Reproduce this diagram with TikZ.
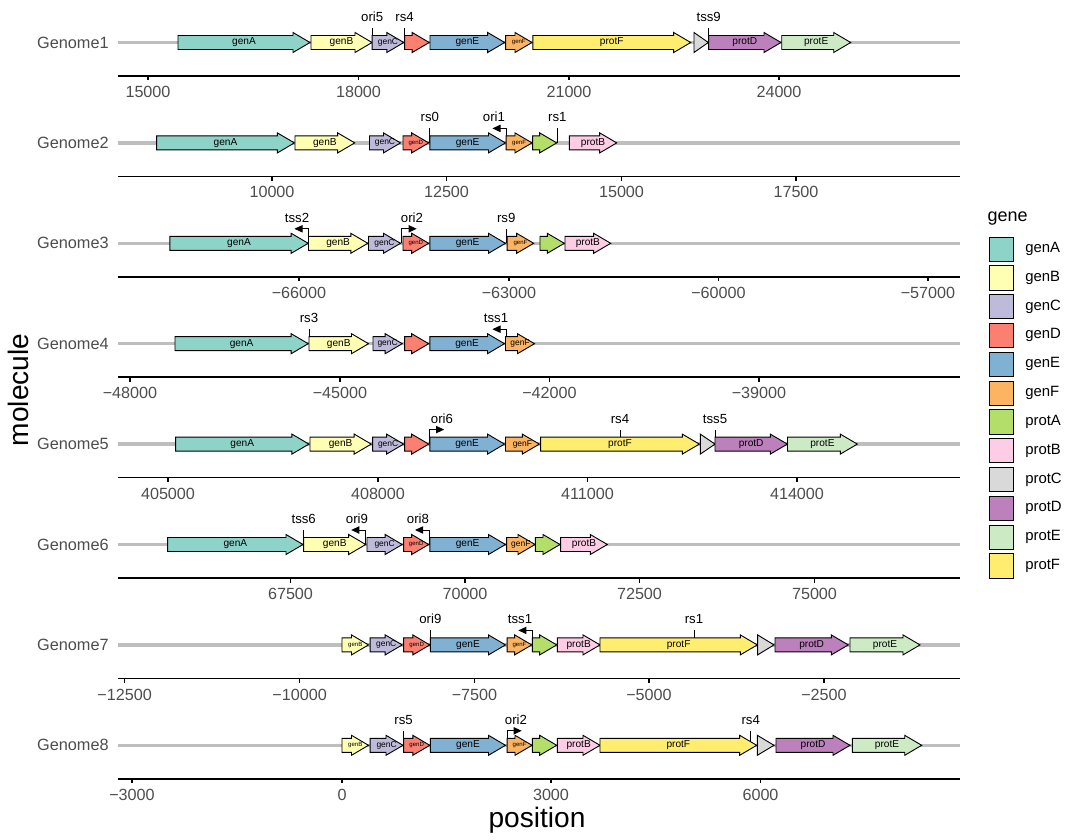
\documentclass[tikz,border=0pt]{standalone}
\usepackage{fontspec}
\setmainfont{Liberation Sans}
\usetikzlibrary{arrows.meta}

\definecolor{cgenA}{HTML}{8DD3C7}
\definecolor{cgenB}{HTML}{FFFFB3}
\definecolor{cgenC}{HTML}{BEBADA}
\definecolor{cgenD}{HTML}{FB8072}
\definecolor{cgenE}{HTML}{80B1D3}
\definecolor{cgenF}{HTML}{FDB462}
\definecolor{cprotA}{HTML}{B3DE69}
\definecolor{cprotB}{HTML}{FCCDE5}
\definecolor{cprotC}{HTML}{D9D9D9}
\definecolor{cprotD}{HTML}{BC80BD}
\definecolor{cprotE}{HTML}{CCEBC5}
\definecolor{cprotF}{HTML}{FFED6F}
\definecolor{cmol}{HTML}{BEBEBE}
\definecolor{grey30}{HTML}{4D4D4D}

% gene arrow: name, row y, start, end, colour, label style, label
\newcommand{\genearrow}[7]{%
  \pgfmathsetmacro{\gL}{#4-#3}%
  \ifdim\gL pt>17pt
    \draw[gene, fill=#5] (#3,{#2-7}) -- ({#4-17},{#2-7}) -- ({#4-17},{#2-10}) -- (#4,#2)
      -- ({#4-17},{#2+10}) -- ({#4-17},{#2+7}) -- (#3,{#2+7}) -- cycle;
  \else
    \draw[gene, fill=#5] (#3,{#2-10}) -- (#4,#2) -- (#3,{#2+10}) -- cycle;
  \fi
  \node[#6] (#1) at ({(#3+#4)/2},#2) {#7};
}
% feature without direction: name, row y, x, label
\newcommand{\sitemark}[4]{%
  \draw[feat] (#3,#2) -- (#3,{#2-14.5});
  \node[flabel] (#1) at (#3,{#2-21}) {#4};
}
% feature with direction: name, row y, x, arrow end, label x, label
\newcommand{\sitearrow}[6]{%
  \draw[feat, -{Triangle[length=5.8pt,width=5.2pt]}] (#3,#2) -- (#3,{#2-14.5}) -- (#4,{#2-14.5});
  \node[flabel] (#1) at (#5,{#2-21}) {#6};
}

\begin{document}
\begin{tikzpicture}[
  x=0.025cm, y=-0.025cm,
  molline/.style={draw=cmol, line width=2.4pt},
  gene/.style={draw=black, line width=0.65pt, line join=miter},
  glabel/.style={font=\fontsize{7.2}{8}\selectfont, inner sep=0pt},
  gsmall/.style={font=\fontsize{6}{6}\selectfont, inner sep=0pt},
  gtiny/.style={font=\fontsize{4.3}{4.5}\selectfont, inner sep=0pt},
  feat/.style={draw=black, line width=0.7pt},
  flabel/.style={font=\fontsize{9.4}{10}\selectfont, anchor=base, inner sep=0pt},
  axisline/.style={draw=black, line width=1pt},
  tlabel/.style={font=\fontsize{11.5}{12}\selectfont, text=grey30, anchor=base, inner sep=0pt},
  mlabel/.style={font=\fontsize{11.6}{12}\selectfont, text=grey30, anchor=east, inner sep=0pt},
  keybox/.style={draw=black, line width=0.5pt, minimum size=17.2pt, inner sep=0pt},
  keylabel/.style={font=\fontsize{10.6}{11}\selectfont, anchor=west, inner sep=0pt},
  title/.style={font=\fontsize{20}{22}\selectfont, anchor=base, inner sep=0pt}
]
\useasboundingbox (0,0) rectangle (1080,840);

% Genome1
\draw[molline] (118,42.5) -- (960,42.5);
\node[mlabel] (m1) at (109,42.5) {Genome1};
\sitemark{f1a}{42.5}{372.2}{ori5}
\sitemark{f1b}{42.5}{404.6}{rs4}
\sitemark{f1c}{42.5}{708.7}{tss9}
\genearrow{g1a}{42.5}{178}{310}{cgenA}{glabel}{genA}
\genearrow{g1b}{42.5}{311}{372}{cgenB}{glabel}{genB}
\genearrow{g1c}{42.5}{372.2}{403.8}{cgenC}{gsmall}{genC}
\genearrow{g1d}{42.5}{404.6}{429.2}{cgenD}{glabel}{}
\genearrow{g1e}{42.5}{430}{504.7}{cgenE}{glabel}{genE}
\genearrow{g1f}{42.5}{505.6}{532}{cgenF}{gtiny}{genF}
\genearrow{g1g}{42.5}{532.8}{690.7}{cprotF}{glabel}{protF}
\genearrow{g1h}{42.5}{694}{708.3}{cprotC}{glabel}{}
\genearrow{g1i}{42.5}{708.7}{781}{cprotD}{glabel}{protD}
\genearrow{g1j}{42.5}{781.7}{850.7}{cprotE}{glabel}{protE}
\draw[axisline] (118,76) -- (960,76);
\foreach \tx/\tl [count=\i] in {148/15000, 358.5/18000, 569/21000, 779/24000} {
  \draw[axisline] (\tx,76) -- (\tx,80.5);
  \node[tlabel] (t1-\i) at (\tx,97.6) {\tl};
}

% Genome2
\draw[molline] (118,142.9) -- (960,142.9);
\node[mlabel] (m2) at (109,142.9) {Genome2};
\sitemark{f2a}{142.9}{429.8}{rs0}
\sitearrow{f2b}{142.9}{506.2}{492.4}{494}{ori1}
\sitemark{f2c}{142.9}{557.3}{rs1}
\genearrow{g2a}{142.9}{156.7}{294.4}{cgenA}{glabel}{genA}
\genearrow{g2b}{142.9}{295}{354.7}{cgenB}{glabel}{genB}
\genearrow{g2c}{142.9}{369.5}{400.5}{cgenC}{gsmall}{genC}
\genearrow{g2d}{142.9}{403}{428.7}{cgenD}{gtiny}{genD}
\genearrow{g2e}{142.9}{429.8}{505.5}{cgenE}{glabel}{genE}
\genearrow{g2f}{142.9}{506.2}{532}{cgenF}{gtiny}{genF}
\genearrow{g2g}{142.9}{532.7}{556.7}{cprotA}{glabel}{}
\genearrow{g2h}{142.9}{569.3}{616.7}{cprotB}{glabel}{protB}
\draw[axisline] (118,176.4) -- (960,176.4);
\foreach \tx/\tl [count=\i] in {272/10000, 446.5/12500, 621.5/15000, 796/17500} {
  \draw[axisline] (\tx,176.4) -- (\tx,180.9);
  \node[tlabel] (t2-\i) at (\tx,198) {\tl};
}

% Genome3
\draw[molline] (118,243.3) -- (960,243.3);
\node[mlabel] (m3) at (109,243.3) {Genome3};
\sitearrow{f3a}{243.3}{308.2}{294.4}{297}{tss2}
\sitearrow{f3b}{243.3}{401.2}{416.7}{412}{ori2}
\sitemark{f3c}{243.3}{506.2}{rs9}
\genearrow{g3a}{243.3}{169.8}{308.2}{cgenA}{glabel}{genA}
\genearrow{g3b}{243.3}{308.5}{367.8}{cgenB}{glabel}{genB}
\genearrow{g3c}{243.3}{368.5}{400.5}{cgenC}{gsmall}{genC}
\genearrow{g3d}{243.3}{403}{428.7}{cgenD}{gtiny}{genD}
\genearrow{g3e}{243.3}{429.8}{505.5}{cgenE}{glabel}{genE}
\genearrow{g3f}{243.3}{507.2}{533.7}{cgenF}{gtiny}{genF}
\genearrow{g3g}{243.3}{540}{564.3}{cprotA}{glabel}{}
\genearrow{g3h}{243.3}{565}{610.7}{cprotB}{glabel}{protB}
\draw[axisline] (118,276.8) -- (960,276.8);
\foreach \tx/\tl [count=\i] in {299/−66000, 509/−63000, 718.5/−60000, 928/−57000} {
  \draw[axisline] (\tx,276.8) -- (\tx,281.3);
  \node[tlabel] (t3-\i) at (\tx,298.4) {\tl};
}

% Genome4
\draw[molline] (118,343.7) -- (960,343.7);
\node[mlabel] (m4) at (109,343.7) {Genome4};
\sitemark{f4a}{343.7}{309}{rs3}
\sitearrow{f4b}{343.7}{506.2}{492.4}{496}{tss1}
\genearrow{g4a}{343.7}{175}{308.2}{cgenA}{glabel}{genA}
\genearrow{g4b}{343.7}{309}{368.5}{cgenB}{glabel}{genB}
\genearrow{g4c}{343.7}{373}{402.2}{cgenC}{gsmall}{genC}
\genearrow{g4d}{343.7}{404.6}{428.7}{cgenD}{glabel}{}
\genearrow{g4e}{343.7}{429.8}{504.5}{cgenE}{glabel}{genE}
\genearrow{g4f}{343.7}{505.5}{534.5}{cgenF}{gsmall}{genF}
\draw[axisline] (118,377.2) -- (960,377.2);
\foreach \tx/\tl [count=\i] in {130/−48000, 340/−45000, 549.5/−42000, 759/−39000} {
  \draw[axisline] (\tx,377.2) -- (\tx,381.7);
  \node[tlabel] (t4-\i) at (\tx,398.8) {\tl};
}

% Genome5
\draw[molline] (118,444.1) -- (960,444.1);
\node[mlabel] (m5) at (109,444.1) {Genome5};
\sitearrow{f5a}{444.1}{429.8}{444.2}{442}{ori6}
\sitemark{f5b}{444.1}{620}{rs4}
\sitemark{f5c}{444.1}{715}{tss5}
\genearrow{g5a}{444.1}{175.6}{308.9}{cgenA}{glabel}{genA}
\genearrow{g5b}{444.1}{310}{371.2}{cgenB}{glabel}{genB}
\genearrow{g5c}{444.1}{372.6}{403.6}{cgenC}{gsmall}{genC}
\genearrow{g5d}{444.1}{404.6}{428.7}{cgenD}{glabel}{}
\genearrow{g5e}{444.1}{429.8}{504.5}{cgenE}{glabel}{genE}
\genearrow{g5f}{444.1}{505.5}{539.3}{cgenF}{gsmall}{genF}
\genearrow{g5g}{444.1}{540.7}{699.3}{cprotF}{glabel}{protF}
\genearrow{g5h}{444.1}{700.3}{715}{cprotC}{glabel}{}
\genearrow{g5i}{444.1}{715}{787.3}{cprotD}{glabel}{protD}
\genearrow{g5j}{444.1}{787.5}{857.3}{cprotE}{glabel}{protE}
\draw[axisline] (118,477.6) -- (960,477.6);
\foreach \tx/\tl [count=\i] in {168/405000, 378/408000, 587.5/411000, 797/414000} {
  \draw[axisline] (\tx,477.6) -- (\tx,482.1);
  \node[tlabel] (t5-\i) at (\tx,499.2) {\tl};
}

% Genome6
\draw[molline] (118,544.5) -- (960,544.5);
\node[mlabel] (m6) at (109,544.5) {Genome6};
\sitemark{f6a}{544.5}{303.7}{tss6}
\sitearrow{f6b}{544.5}{365.7}{351.2}{357}{ori9}
\sitearrow{f6c}{544.5}{429.8}{415}{418}{ori8}
\genearrow{g6a}{544.5}{167.7}{303}{cgenA}{glabel}{genA}
\genearrow{g6b}{544.5}{303.7}{365.7}{cgenB}{glabel}{genB}
\genearrow{g6c}{544.5}{367}{402.2}{cgenC}{gsmall}{genC}
\genearrow{g6d}{544.5}{403.6}{428.7}{cgenD}{gtiny}{genD}
\genearrow{g6e}{544.5}{429.8}{505.5}{cgenE}{glabel}{genE}
\genearrow{g6f}{544.5}{506.7}{535}{cgenF}{gsmall}{genF}
\genearrow{g6g}{544.5}{535.3}{560}{cprotA}{glabel}{}
\genearrow{g6h}{544.5}{560.7}{607.3}{cprotB}{glabel}{protB}
\draw[axisline] (118,578) -- (960,578);
\foreach \tx/\tl [count=\i] in {290.5/67500, 465/70000, 639.5/72500, 814.5/75000} {
  \draw[axisline] (\tx,578) -- (\tx,582.5);
  \node[tlabel] (t6-\i) at (\tx,599.6) {\tl};
}

% Genome7
\draw[molline] (118,644.9) -- (960,644.9);
\node[mlabel] (m7) at (109,644.9) {Genome7};
\sitemark{f7a}{644.9}{430.4}{ori9}
\sitearrow{f7b}{644.9}{532.3}{518.3}{520}{tss1}
\sitemark{f7c}{644.9}{694}{rs1}
\genearrow{g7a}{644.9}{342}{368.5}{cgenB}{gtiny}{genB}
\genearrow{g7b}{644.9}{370.2}{402.2}{cgenC}{gsmall}{genC}
\genearrow{g7c}{644.9}{403.6}{429.8}{cgenD}{gtiny}{genD}
\genearrow{g7d}{644.9}{430.4}{505.5}{cgenE}{glabel}{genE}
\genearrow{g7e}{644.9}{507.2}{531.7}{cgenF}{gtiny}{genF}
\genearrow{g7f}{644.9}{532.3}{556.7}{cprotA}{glabel}{}
\genearrow{g7g}{644.9}{557.3}{600}{cprotB}{glabel}{protB}
\genearrow{g7h}{644.9}{600}{757.3}{cprotF}{glabel}{protF}
\genearrow{g7i}{644.9}{757.6}{774}{cprotC}{glabel}{}
\genearrow{g7j}{644.9}{775}{848.3}{cprotD}{glabel}{protD}
\genearrow{g7k}{644.9}{850}{920}{cprotE}{glabel}{protE}
\draw[axisline] (118,678.4) -- (960,678.4);
\foreach \tx/\tl [count=\i] in {124.7/−12500, 299.6/−10000, 474.5/−7500, 649/−5000, 824/−2500} {
  \draw[axisline] (\tx,678.4) -- (\tx,682.9);
  \node[tlabel] (t7-\i) at (\tx,700) {\tl};
}

% Genome8
\draw[molline] (118,745.3) -- (960,745.3);
\node[mlabel] (m8) at (109,745.3) {Genome8};
\sitemark{f8a}{745.3}{403.6}{rs5}
\sitearrow{f8b}{745.3}{507.2}{521.7}{516}{ori2}
\sitemark{f8c}{745.3}{750.7}{rs4}
\genearrow{g8a}{745.3}{342}{368.5}{cgenB}{gtiny}{genB}
\genearrow{g8b}{745.3}{370.2}{403}{cgenC}{gsmall}{genC}
\genearrow{g8c}{745.3}{403.6}{429.8}{cgenD}{gtiny}{genD}
\genearrow{g8d}{745.3}{430.4}{505.5}{cgenE}{glabel}{genE}
\genearrow{g8e}{745.3}{507.2}{532}{cgenF}{gtiny}{genF}
\genearrow{g8f}{745.3}{532.3}{556.7}{cprotA}{glabel}{}
\genearrow{g8g}{745.3}{557.3}{600}{cprotB}{glabel}{protB}
\genearrow{g8h}{745.3}{600}{756.7}{cprotF}{glabel}{protF}
\genearrow{g8i}{745.3}{757.3}{774}{cprotC}{glabel}{}
\genearrow{g8j}{745.3}{776}{850}{cprotD}{glabel}{protD}
\genearrow{g8k}{745.3}{852.3}{921.7}{cprotE}{glabel}{protE}
\draw[axisline] (118,778.8) -- (960,778.8);
\foreach \tx/\tl [count=\i] in {132/−3000, 342/0, 551/3000, 760.5/6000} {
  \draw[axisline] (\tx,778.8) -- (\tx,783.3);
  \node[tlabel] (t8-\i) at (\tx,800.4) {\tl};
}

% axis titles
\node[title] (xtitle) at (537,827) {position};
\node[title, rotate=90] (ytitle) at (28.3,390) {molecule};

% legend
\node[font=\fontsize{12.8}{14}\selectfont, anchor=base west, inner sep=0pt] (legtitle) at (987.3,222) {gene};
\foreach \g [count=\i from 0] in {genA,genB,genC,genD,genE,genF,protA,protB,protC,protD,protE,protF} {
  \node[keybox, fill=c\g] (key\g) at (1001.2,{249+28.8*\i}) {};
  \node[keylabel] (lab\g) at (1025,{249+28.8*\i}) {\g};
}
\end{tikzpicture}
\end{document}
